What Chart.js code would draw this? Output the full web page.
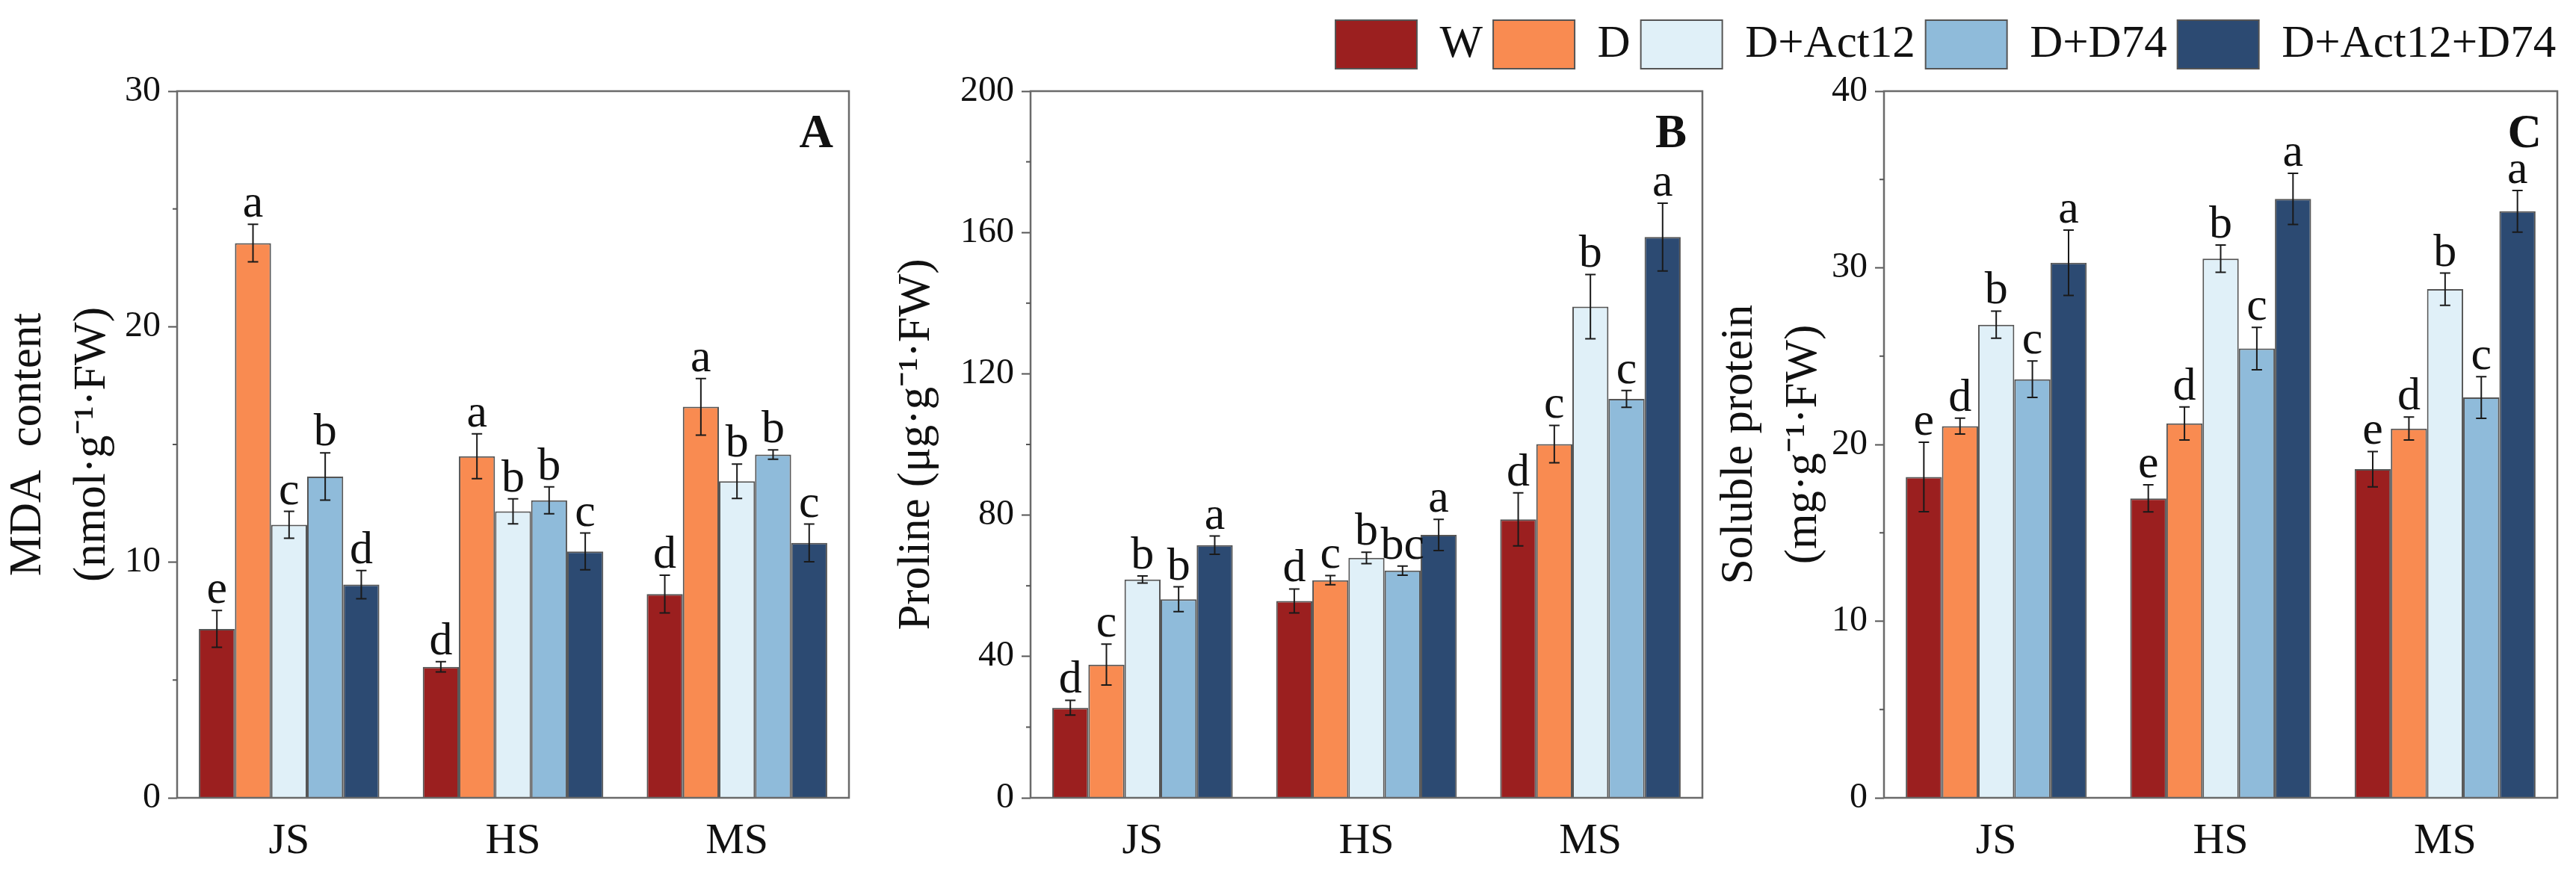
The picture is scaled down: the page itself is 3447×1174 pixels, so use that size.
<!DOCTYPE html>
<html>
<head>
<meta charset="utf-8">
<script src="https://cdn.jsdelivr.net/npm/chart.js@4.4.1/dist/chart.umd.min.js"></script>
<style>
html,body{margin:0;padding:0;background:#fff;width:3447px;height:1174px;overflow:hidden;}
canvas{position:absolute;top:0;}
</style>
</head>
<body>
<canvas id="cA"></canvas>
<canvas id="cB"></canvas>
<canvas id="cC"></canvas>
<canvas id="legendCanvas"></canvas>
<script>
// ---------- DATA ----------
const categories = ['JS', 'HS', 'MS'];
const seriesNames = ['W', 'D', 'D+Act12', 'D+D74', 'D+Act12+D74'];
const seriesColors = ['#9B1F1F', '#F98B51', '#E0F0F8', '#8FBBDA', '#2C4A72'];

// Panel A: MDA content (nmol·g-1·FW) — rows follow seriesNames, columns follow categories
const mdaValues = [
  [7.17, 5.56, 8.65],
  [23.55, 14.50, 16.60],
  [11.59, 12.16, 13.44],
  [13.64, 12.63, 14.57],
  [9.05, 10.46, 10.82]
];
const mdaErrors = [
  [0.78, 0.22, 0.80],
  [0.80, 0.95, 1.20],
  [0.57, 0.53, 0.73],
  [1.00, 0.57, 0.20],
  [0.60, 0.78, 0.80]
];
const mdaLetters = [
  ['e', 'd', 'd'],
  ['a', 'a', 'a'],
  ['c', 'b', 'b'],
  ['b', 'b', 'b'],
  ['d', 'c', 'c']
];
const mdaTicks = [0, 10, 20, 30];

// Panel B: Proline (μg·g-1·FW)
const prolineValues = [
  [25.5, 55.7, 78.8],
  [37.7, 61.6, 100.1],
  [61.8, 67.9, 139.0],
  [56.2, 64.3, 112.9],
  [71.5, 74.4, 158.7]
];
const prolineErrors = [
  [2.1, 3.4, 7.5],
  [5.8, 1.3, 5.3],
  [1.0, 1.6, 9.1],
  [3.5, 1.3, 2.4],
  [2.6, 4.4, 9.6]
];
const prolineLetters = [
  ['d', 'd', 'd'],
  ['c', 'c', 'c'],
  ['b', 'b', 'b'],
  ['b', 'bc', 'c'],
  ['a', 'a', 'a']
];
const prolineTicks = [0, 40, 80, 120, 160, 200];

// Panel C: Soluble protein (mg·g-1·FW)
const proteinValues = [
  [18.16, 16.95, 18.60],
  [21.04, 21.19, 20.90],
  [26.78, 30.52, 28.79],
  [23.69, 25.43, 22.66],
  [30.29, 33.90, 33.20]
];
const proteinErrors = [
  [1.97, 0.77, 1.00],
  [0.45, 0.94, 0.65],
  [0.77, 0.77, 0.91],
  [1.03, 1.20, 1.18],
  [1.85, 1.45, 1.18]
];
const proteinLetters = [
  ['e', 'e', 'e'],
  ['d', 'd', 'd'],
  ['b', 'b', 'b'],
  ['c', 'c', 'c'],
  ['a', 'a', 'a']
];
const proteinTicks = [0, 10, 20, 30, 40];

// ---------- STYLE / LAYOUT ----------
const FONT = "'Liberation Serif', 'Times New Roman', serif";
const TEXT = '#111111';
const H = 1174;

function makeDatasets(values) {
  return seriesNames.map((name, i) => ({
    label: name,
    data: values ? values[i] : [],
    backgroundColor: seriesColors[i],
    borderColor: '#555555',
    borderWidth: 2,
    borderSkipped: 'start',
    categoryPercentage: 0.806,
    barPercentage: 1.0
  }));
}

function decoPlugin(p) {
  return {
    id: 'deco' + p.label,
    afterDatasetsDraw(chart) {
      const ctx = chart.ctx, ys = chart.scales.y, a = chart.chartArea;
      ctx.save();
      chart.data.datasets.forEach((ds, i) => {
        const meta = chart.getDatasetMeta(i);
        meta.data.forEach((bar, j) => {
          const v = ds.data[j], e = p.errors[i][j];
          const yT = ys.getPixelForValue(v + e), yB = ys.getPixelForValue(v - e);
          ctx.strokeStyle = '#1a1a1a';
          ctx.lineWidth = 2;
          ctx.beginPath();
          ctx.moveTo(bar.x, yT); ctx.lineTo(bar.x, yB);
          ctx.moveTo(bar.x - 7, yT); ctx.lineTo(bar.x + 7, yT);
          ctx.moveTo(bar.x - 7, yB); ctx.lineTo(bar.x + 7, yB);
          ctx.stroke();
          ctx.fillStyle = TEXT;
          ctx.font = '62px ' + FONT;
          ctx.textAlign = 'center';
          ctx.textBaseline = 'alphabetic';
          ctx.fillText(p.letters[i][j], bar.x, yT - 10);
        });
      });
      // frame
      ctx.strokeStyle = '#6a6a6a';
      ctx.lineWidth = 2.5;
      ctx.strokeRect(a.left, a.top, a.right - a.left, a.bottom - a.top);
      // minor ticks
      const ticks = p.ticks;
      ctx.strokeStyle = '#555555';
      ctx.lineWidth = 2;
      for (let k = 0; k < ticks.length - 1; k++) {
        const mv = (ticks[k] + ticks[k + 1]) / 2;
        const y = ys.getPixelForValue(mv);
        ctx.beginPath();
        ctx.moveTo(a.left - 6, y);
        ctx.lineTo(a.left, y);
        ctx.stroke();
      }
      // panel label
      ctx.fillStyle = TEXT;
      ctx.font = 'bold 63px ' + FONT;
      ctx.textAlign = 'right';
      ctx.textBaseline = 'alphabetic';
      ctx.fillText(p.label, a.right - 21, a.top + 75);
      ctx.restore();
    }
  };
}

function makePanel(id, p) {
  const cv = document.getElementById(id);
  cv.width = p.canvasRight - p.canvasLeft;
  cv.height = H;
  cv.style.left = p.canvasLeft + 'px';
  const ticks = p.ticks;
  new Chart(cv, {
    type: 'bar',
    data: { labels: categories, datasets: makeDatasets(p.values) },
    options: {
      responsive: false,
      animation: false,
      devicePixelRatio: 1,
      layout: { padding: { top: 122, right: p.canvasRight - p.areaRight, left: 0, bottom: 0 } },
      plugins: { legend: { display: false }, tooltip: { enabled: false } },
      scales: {
        x: {
          offset: true,
          grid: { display: false, drawTicks: false },
          border: { display: false },
          ticks: { font: { family: FONT, size: 58 }, color: TEXT, padding: 24, maxRotation: 0 },
          afterFit(s) { s.height = H - 1068; }
        },
        y: {
          min: ticks[0],
          max: ticks[ticks.length - 1],
          afterBuildTicks(s) { s.ticks = ticks.map(v => ({ value: v })); },
          ticks: { font: { family: FONT, size: 48 }, color: TEXT, padding: 10 },
          grid: { drawOnChartArea: false, drawTicks: true, tickLength: 12, tickWidth: 2, tickColor: '#555555' },
          border: { display: false },
          title: { display: true, text: p.title, font: { family: FONT, size: 61, lineHeight: 1.41 }, color: TEXT, padding: 0 },
          afterFit(s) { s.width = p.areaLeft - p.canvasLeft; }
        }
      }
    },
    plugins: [decoPlugin(p)]
  });
}

makePanel('cA', {
  label: 'A', values: mdaValues, errors: mdaErrors, letters: mdaLetters, ticks: mdaTicks,
  title: ['MDA  content', '(nmol·g⁻¹·FW)'],
  canvasLeft: -5, areaLeft: 237, areaRight: 1136, canvasRight: 1160
});
makePanel('cB', {
  label: 'B', values: prolineValues, errors: prolineErrors, letters: prolineLetters, ticks: prolineTicks,
  title: 'Proline (μg·g⁻¹·FW)',
  canvasLeft: 1184, areaLeft: 1379, areaRight: 2278, canvasRight: 2302
});
makePanel('cC', {
  label: 'C', values: proteinValues, errors: proteinErrors, letters: proteinLetters, ticks: proteinTicks,
  title: ['Soluble protein', '(mg·g⁻¹·FW)'],
  canvasLeft: 2285, areaLeft: 2521, areaRight: 3422, canvasRight: 3446
});

// ---------- LEGEND ----------
(function () {
  const cv = document.getElementById('legendCanvas');
  cv.width = 3447 - 1773;
  cv.height = 400;
  cv.style.left = '1773px';
  cv.style.top = '13px';
  cv.style.pointerEvents = 'none';
  new Chart(cv, {
    type: 'bar',
    data: { labels: [], datasets: makeDatasets(null) },
    options: {
      responsive: false,
      animation: false,
      devicePixelRatio: 1,
      layout: { padding: 0 },
      scales: { x: { display: false }, y: { display: false } },
      plugins: {
        tooltip: { enabled: false },
        legend: {
          display: true,
          position: 'top',
          align: 'start',
          maxHeight: 200,
          labels: {
            boxWidth: 109, boxHeight: 65, padding: 14,
            font: { family: FONT, size: 61 }, color: TEXT
          }
        }
      }
    }
  });
})();
</script>
</body>
</html>
